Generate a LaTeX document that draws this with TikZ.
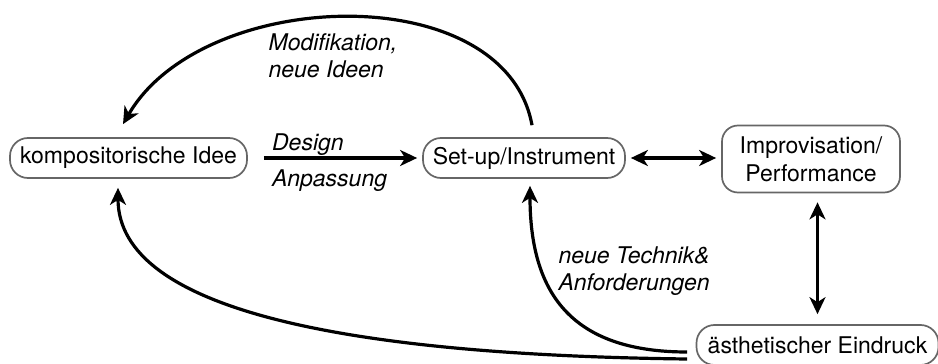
\documentclass[tikz,border=0pt]{standalone}
\usepackage{fontspec}
\setmainfont{TeX Gyre Heros}
\usepackage{tikz}
\usetikzlibrary{arrows.meta}
\tikzstyle{pill} = [draw=black!60, line width=1.7pt, rounded corners=18pt, minimum height=40pt, inner sep=0pt, font=\fontsize{23}{28}\selectfont]
\tikzstyle{pill2} = [pill, rounded corners=16pt, minimum width=178pt, minimum height=67pt, align=center]
\tikzstyle{lbl} = [font=\fontsize{23}{27}\selectfont\itshape, align=left, inner sep=0pt]
\tikzstyle{pfeil} = [line width=3.2pt, -{Stealth[length=17pt,width=16pt,inset=5pt]}]
\tikzstyle{pfeil2} = [line width=3.2pt, {Stealth[length=17pt,width=16pt,inset=5pt]}-{Stealth[length=17pt,width=16pt,inset=5pt]}]

\begin{document}
\begin{tikzpicture}[x=1pt, y=1pt]
\useasboundingbox (0,0) rectangle (938,-364);

\node[pill, minimum width=237pt] (idee) at (128.5,-158) {kompositorische Idee};
\node[pill, minimum width=202pt] (setup) at (524,-158) {Set-up/Instrument};
\node[pill2] (impro) at (811,-159) {Improvisation/\\Performance};
\node[pill, minimum width=242pt] (eindruck) at (817.5,-345) {ästhetischer Eindruck};

\draw[pfeil, shorten <=16pt, shorten >=5pt] (idee.east) -- (setup.west)
    node[lbl, pos=0.13, anchor=south west, yshift=1pt] (design) {Design}
    node[lbl, pos=0.13, anchor=north west, yshift=-10pt] (anpassung) {Anpassung};
\draw[pfeil2, shorten <=5pt, shorten >=5pt] (setup.east) -- (setup.east -| impro.west);
\draw[pfeil2, shorten <=9pt, shorten >=10pt] (impro.south -| eindruck.north) -- (eindruck.north);

\draw[pfeil] ([xshift=8pt,yshift=12pt]setup.north) .. controls +(-27,148) and +(80,138) .. ([xshift=-5.5pt,yshift=13pt]idee.north)
    node[lbl, anchor=north west] (modifikation) at (267,-32) {Modifikation,\\neue Ideen};
\draw[pfeil] ([xshift=-8.5pt,yshift=-7pt]eindruck.west) .. controls +(-118,0) and +(0,-105) .. ([xshift=6pt,yshift=-7pt]setup.south)
    node[lbl, anchor=north west] (technik) at (557,-245) {neue Technik\&\\Anforderungen};
\draw[pfeil] ([xshift=-8.5pt,yshift=-14pt]eindruck.west) .. controls +(-338,4) and +(0,-123) .. ([xshift=-10.5pt,yshift=-9pt]idee.south);
\end{tikzpicture}
\end{document}
